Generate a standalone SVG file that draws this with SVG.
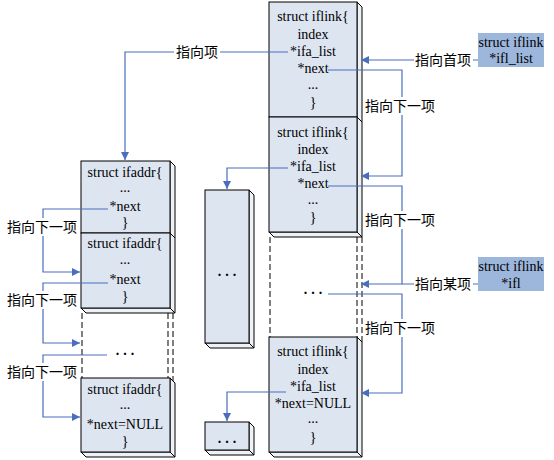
<svg xmlns="http://www.w3.org/2000/svg" width="554" height="460" viewBox="0 0 554 460">
<style>
text{font-family:"Liberation Serif","Noto Sans CJK SC",serif;font-size:14px;fill:#000;text-anchor:middle}
.front{fill:#dde5f1;stroke:#000;stroke-width:1}
.side{fill:#eef1f5;stroke:#000;stroke-width:1}
.dash{stroke:#000;stroke-width:1;stroke-dasharray:6,3;fill:none}
.ln{fill:none;stroke:#4a6ebd;stroke-width:1.2}
.lbg{fill:#fff}
.tag{fill:#9db6dc}
.dots{font-weight:bold;letter-spacing:4px}
.cn{font-family:"Noto Sans CJK SC","Liberation Serif",serif}
</style>
<defs>
<marker id="ah" markerUnits="userSpaceOnUse" markerWidth="9" markerHeight="8" refX="8" refY="4" orient="auto">
<path d="M0,0 L8,4 L0,8 z" fill="#4a6ebd"/>
</marker>
</defs>

<g id="iflink1">
<polygon class="side" points="357,2 362,7 362,122 357,117"/>
<polygon class="side" points="269,117 357,117 362,122 274,122"/>
<rect class="front" x="269" y="2" width="88" height="115"/>
<text x="313" y="21">struct iflink{</text>
<text x="313" y="39">index</text>
<text x="313" y="56">*ifa_list</text>
<text x="313" y="73">*next</text>
<text x="313" y="89">...</text>
<text x="313" y="107">}</text>
</g>
<g id="iflink2">
<polygon class="side" points="357,117 362,122 362,237 357,232"/>
<polygon class="side" points="269,232 357,232 362,237 274,237"/>
<rect class="front" x="269" y="117" width="88" height="115"/>
<text x="313" y="137">struct iflink{</text>
<text x="313" y="154">index</text>
<text x="313" y="171">*ifa_list</text>
<text x="313" y="188">*next</text>
<text x="313" y="204">...</text>
<text x="313" y="222">}</text>
</g>
<g id="iflink-gap">
<line class="dash" x1="270" y1="237" x2="270" y2="337"/>
<line class="dash" x1="357" y1="237" x2="357" y2="337"/>
<line class="dash" x1="362" y1="237" x2="362" y2="342"/>
<text class="dots" x="315" y="294">...</text>
</g>
<g id="iflink4">
<polygon class="side" points="357,337 362,342 362,457 357,452"/>
<polygon class="side" points="269,452 357,452 362,457 274,457"/>
<rect class="front" x="269" y="337" width="88" height="115"/>
<text x="313" y="356">struct iflink{</text>
<text x="313" y="374">index</text>
<text x="313" y="391">*ifa_list</text>
<text x="313" y="408">*next=NULL</text>
<text x="313" y="423">...</text>
<text x="313" y="442">}</text>
</g>

<g id="ifaddr1">
<polygon class="side" points="170,161 175,166 175,238 170,233"/>
<polygon class="side" points="81,233 170,233 175,238 86,238"/>
<rect class="front" x="81" y="161" width="89" height="72"/>
<text x="125" y="177">struct ifaddr{</text>
<text x="125" y="192">...</text>
<text x="125" y="211">*next</text>
<text x="125" y="227">}</text>
</g>
<g id="ifaddr2">
<polygon class="side" points="170,233 175,238 175,313 170,308"/>
<polygon class="side" points="81,308 170,308 175,313 86,313"/>
<rect class="front" x="81" y="233" width="89" height="75"/>
<text x="125" y="248">struct ifaddr{</text>
<text x="125" y="264">...</text>
<text x="125" y="284">*next</text>
<text x="125" y="301">}</text>
</g>
<g id="ifaddr-gap">
<line class="dash" x1="82" y1="313" x2="82" y2="378"/>
<line class="dash" x1="168" y1="313" x2="168" y2="378"/>
<line class="dash" x1="173" y1="313" x2="173" y2="383"/>
<text class="dots" x="127" y="355">...</text>
</g>
<g id="ifaddr3">
<polygon class="side" points="170,378 175,383 175,457 170,452"/>
<polygon class="side" points="81,452 170,452 175,457 86,457"/>
<rect class="front" x="81" y="378" width="89" height="74"/>
<text x="125" y="394">struct ifaddr{</text>
<text x="125" y="409">...</text>
<text x="125" y="429">*next=NULL</text>
<text x="125" y="446">}</text>
</g>

<g id="ifaddr-block">
<polygon class="side" points="249,190 254,195 254,348 249,343"/>
<polygon class="side" points="205,343 249,343 254,348 210,348"/>
<rect class="front" x="205" y="190" width="44" height="153"/>
<text class="dots" x="229" y="276">...</text>
</g>
<g id="ifaddr-small">
<polygon class="side" points="249,422 254,427 254,455 249,450"/>
<polygon class="side" points="205,450 249,450 254,455 210,455"/>
<rect class="front" x="205" y="422" width="44" height="28"/>
<text class="dots" x="229" y="443">...</text>
</g>

<g id="ifl_list">
<rect class="tag" x="478" y="33" width="66" height="34"/>
<text x="511" y="47">struct iflink</text>
<text x="511" y="63">*ifl_list</text>
</g>
<g id="ifl">
<rect class="tag" x="478" y="257" width="66" height="34"/>
<text x="511" y="271">struct iflink</text>
<text x="511" y="288">*ifl</text>
</g>

<g id="connectors">
<path class="ln" d="M288,52 H125 V160" marker-end="url(#ah)"/>
<path class="ln" d="M288,168 H227 V189" marker-end="url(#ah)"/>
<path class="ln" d="M286,392 H227 V421" marker-end="url(#ah)"/>
<path class="ln" d="M478,60 H361" marker-end="url(#ah)"/>
<path class="ln" d="M328,70 H402 V176 H361" marker-end="url(#ah)"/>
<path class="ln" d="M328,186 H402 V284 H361" marker-end="url(#ah)"/>
<path class="ln" d="M478,284 H402"/>
<path class="ln" d="M328,294 H402 V393 H361" marker-end="url(#ah)"/>
<path class="ln" d="M108,209 H43 V272 H80" marker-end="url(#ah)"/>
<path class="ln" d="M108,283 H43 V343 H80" marker-end="url(#ah)"/>
<path class="ln" d="M107,355 H43 V417 H80" marker-end="url(#ah)"/>
</g>

<g id="labels">
<rect class="lbg" x="174" y="43" width="46" height="18"/>
<text class="cn" x="197" y="57">指向项</text>
<rect class="lbg" x="414" y="51" width="59" height="18"/>
<text class="cn" x="443" y="65">指向首项</text>
<rect class="lbg" x="364" y="97" width="72" height="18"/>
<text class="cn" x="400" y="111">指向下一项</text>
<rect class="lbg" x="364" y="211" width="72" height="18"/>
<text class="cn" x="400" y="225">指向下一项</text>
<rect class="lbg" x="414" y="275" width="59" height="18"/>
<text class="cn" x="443" y="289">指向某项</text>
<rect class="lbg" x="364" y="319" width="72" height="18"/>
<text class="cn" x="400" y="333">指向下一项</text>
<rect class="lbg" x="6" y="218" width="72" height="18"/>
<text class="cn" x="42" y="232">指向下一项</text>
<rect class="lbg" x="6" y="291" width="72" height="18"/>
<text class="cn" x="42" y="305">指向下一项</text>
<rect class="lbg" x="6" y="363" width="72" height="18"/>
<text class="cn" x="42" y="377">指向下一项</text>
</g>
</svg>
